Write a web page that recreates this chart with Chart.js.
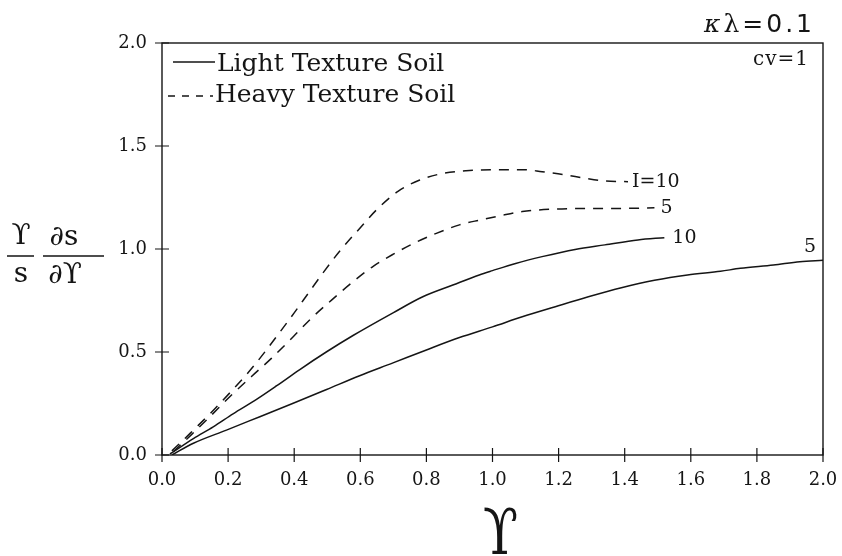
<!DOCTYPE html>
<html>
<head>
<meta charset="utf-8">
<script src="https://cdn.jsdelivr.net/npm/chart.js@4"></script>
<style>
  html, body { margin: 0; padding: 0; background: #fff; }
  canvas { display: block; }
</style>
</head>
<body>
<canvas id="chart" width="842" height="556"></canvas>
<script>
// values (x = Upsilon, y = (Y/s) ds/dY)
const lightI10X = [0.024, 0.095, 0.155, 0.215, 0.286, 0.346, 0.417, 0.497, 0.578, 0.699, 0.789, 0.88, 0.96, 1.0, 1.07, 1.15, 1.25, 1.34, 1.44, 1.52];
const lightI10Y = [0.005, 0.08, 0.137, 0.20, 0.27, 0.335, 0.415, 0.50, 0.58, 0.69, 0.768, 0.825, 0.874, 0.895, 0.93, 0.963, 0.998, 1.02, 1.044, 1.055];

const lightI5X = [0.03, 0.095, 0.195, 0.296, 0.397, 0.498, 0.598, 0.699, 0.80, 0.90, 1.0, 1.09, 1.19, 1.29, 1.39, 1.49, 1.59, 1.69, 1.75, 1.85, 1.93, 2.0];
const lightI5Y = [0, 0.057, 0.121, 0.186, 0.251, 0.318, 0.385, 0.447, 0.51, 0.57, 0.622, 0.671, 0.72, 0.768, 0.812, 0.848, 0.874, 0.892, 0.906, 0.922, 0.938, 0.945];

const heavyI10X = [0.03, 0.085, 0.145, 0.21, 0.266, 0.316, 0.356, 0.40, 0.447, 0.49, 0.538, 0.598, 0.649, 0.714, 0.78, 0.85, 0.92, 1.01, 1.1, 1.15, 1.22, 1.28, 1.34, 1.41];
const heavyI10Y = [0.02, 0.105, 0.20, 0.31, 0.41, 0.51, 0.595, 0.69, 0.795, 0.89, 0.99, 1.10, 1.19, 1.28, 1.335, 1.367, 1.38, 1.385, 1.385, 1.375, 1.36, 1.343, 1.33, 1.327];

const heavyI5X = [0.034, 0.09, 0.145, 0.205, 0.27, 0.331, 0.397, 0.452, 0.513, 0.578, 0.638, 0.70, 0.765, 0.83, 0.90, 0.96, 1.02, 1.09, 1.19, 1.29, 1.39, 1.49];
const heavyI5Y = [0.016, 0.10, 0.186, 0.283, 0.38, 0.469, 0.574, 0.664, 0.752, 0.841, 0.915, 0.975, 1.03, 1.076, 1.117, 1.14, 1.16, 1.182, 1.194, 1.197, 1.197, 1.20];

const curveLabels = ["10", "5", "I=10", "5"];
const legendLabels = ["Light Texture Soil", "Heavy Texture Soil"];
const xTickMin = 0, xTickMax = 2, xTickStep = 0.2;
const yTickMin = 0, yTickMax = 2, yTickStep = 0.5;

const INK = "#151515";
const SERIF = "'DejaVu Serif', serif";

function pairs(xs, ys) {
  return xs.map((x, i) => ({ x: x, y: ys[i] }));
}

// label offsets from each curve's last point (pixels)
const labelOffsets = [[8, 0], [-19, -13], [4, 0], [6, 0]];

const decor = {
  id: "decor",
  afterDraw(chart) {
    const ctx = chart.ctx;
    const a = chart.chartArea;
    const xs = chart.scales.x;
    const ys = chart.scales.y;
    ctx.save();
    ctx.strokeStyle = INK;
    ctx.fillStyle = INK;

    // frame
    ctx.lineWidth = 1.4;
    ctx.strokeRect(a.left, a.top, a.right - a.left, a.bottom - a.top);

    // tick marks crossing the axes
    ctx.lineWidth = 1.2;
    ctx.beginPath();
    xs.ticks.forEach(t => {
      const p = xs.getPixelForValue(t.value);
      ctx.moveTo(p, a.bottom - 7);
      ctx.lineTo(p, a.bottom + 7);
    });
    ys.ticks.forEach(t => {
      const p = ys.getPixelForValue(t.value);
      ctx.moveTo(a.left - 7, p);
      ctx.lineTo(a.left + 7, p);
    });
    ctx.stroke();

    // legend
    ctx.lineWidth = 1.4;
    ctx.beginPath();
    ctx.moveTo(a.left + 11, a.top + 19);
    ctx.lineTo(a.left + 53, a.top + 19);
    ctx.stroke();
    ctx.setLineDash([7, 7]);
    ctx.beginPath();
    ctx.moveTo(a.left + 6, a.top + 53);
    ctx.lineTo(a.left + 51, a.top + 53);
    ctx.stroke();
    ctx.setLineDash([]);
    ctx.font = "25px " + SERIF;
    ctx.textAlign = "left";
    ctx.textBaseline = "alphabetic";
    ctx.fillText(legendLabels[0], a.left + 55, a.top + 28);
    ctx.fillText(legendLabels[1], a.left + 53, a.top + 59);

    // curve end labels
    ctx.font = "19px " + SERIF;
    ctx.textBaseline = "middle";
    chart.data.datasets.forEach((ds, i) => {
      const last = ds.data[ds.data.length - 1];
      const px = xs.getPixelForValue(last.x) + labelOffsets[i][0];
      const py = ys.getPixelForValue(last.y) + labelOffsets[i][1];
      ctx.fillText(curveLabels[i], px, py);
    });

    // kappa lambda = 0.1 above the frame
    const parts = [
      { t: "κ", f: "italic 25px " + SERIF },
      { t: "λ", f: "25px " + SERIF },
      { t: "=", f: "25px 'DejaVu Sans', sans-serif" },
      { t: "0.1", f: "25px 'DejaVu Sans', sans-serif" }
    ];
    ctx.letterSpacing = "3px";
    let w = 0;
    parts.forEach(p => { ctx.font = p.f; p.w = ctx.measureText(p.t).width; w += p.w; });
    let cx = a.right - 8 - w;
    ctx.textBaseline = "alphabetic";
    parts.forEach(p => { ctx.font = p.f; ctx.fillText(p.t, cx, a.top - 11); cx += p.w; });

    // cv=1 inside the frame
    ctx.letterSpacing = "1px";
    ctx.font = "20px " + SERIF;
    ctx.textAlign = "right";
    ctx.fillText("cv=1", a.right - 14, a.top + 22);
    ctx.letterSpacing = "0px";

    // y axis title: (Y / s) (ds / dY)
    ctx.font = "28px " + SERIF;
    ctx.textAlign = "center";
    ctx.textBaseline = "alphabetic";
    ctx.fillText("ϒ", 21, 244);
    ctx.fillText("s", 21, 282);
    ctx.fillText("∂s", 64, 245);
    ctx.fillText("∂ϒ", 65, 283);
    ctx.lineWidth = 1.3;
    ctx.beginPath();
    ctx.moveTo(7, 256); ctx.lineTo(34, 256);
    ctx.moveTo(43, 256); ctx.lineTo(104, 256);
    ctx.stroke();

    // x axis title
    ctx.save();
    ctx.translate((a.left + a.right) / 2 + 8, 554);
    ctx.scale(0.8, 1);
    ctx.font = "64px " + SERIF;
    ctx.fillText("ϒ", 0, 0);
    ctx.restore();

    ctx.restore();
  }
};

const lineStyle = {
  borderColor: INK,
  borderWidth: 1.5,
  pointRadius: 0,
  cubicInterpolationMode: "monotone",
  fill: false
};

const ctx = document.getElementById("chart").getContext("2d");
const chart = new Chart(ctx, {
  type: "line",
  data: {
    datasets: [
      Object.assign({ label: "Light I=10", data: pairs(lightI10X, lightI10Y) }, lineStyle),
      Object.assign({ label: "Light I=5", data: pairs(lightI5X, lightI5Y) }, lineStyle),
      Object.assign({ label: "Heavy I=10", data: pairs(heavyI10X, heavyI10Y), borderDash: [10, 8] }, lineStyle),
      Object.assign({ label: "Heavy I=5", data: pairs(heavyI5X, heavyI5Y), borderDash: [10, 8] }, lineStyle)
    ]
  },
  options: {
    responsive: false,
    animation: false,
    devicePixelRatio: 1,
    layout: { padding: { left: 0, right: 19, top: 43, bottom: 0 } },
    plugins: {
      legend: { display: false },
      tooltip: { enabled: false }
    },
    scales: {
      x: {
        type: "linear",
        min: xTickMin,
        max: xTickMax,
        grid: { display: false, drawTicks: false },
        border: { display: false },
        ticks: {
          stepSize: xTickStep,
          padding: 15,
          color: INK,
          font: { family: SERIF, size: 18 },
          callback: v => v.toFixed(1)
        },
        afterFit: s => { s.height = 101; s.paddingLeft = 0; s.paddingRight = 0; }
      },
      y: {
        type: "linear",
        min: yTickMin,
        max: yTickMax,
        grid: { display: false, drawTicks: false },
        border: { display: false },
        ticks: {
          stepSize: yTickStep,
          padding: 15,
          color: INK,
          font: { family: SERIF, size: 18 },
          callback: v => v.toFixed(1)
        },
        afterFit: s => { s.width = 162; s.paddingTop = 0; s.paddingBottom = 0; }
      }
    }
  },
  plugins: [decor]
});
</script>
</body>
</html>
